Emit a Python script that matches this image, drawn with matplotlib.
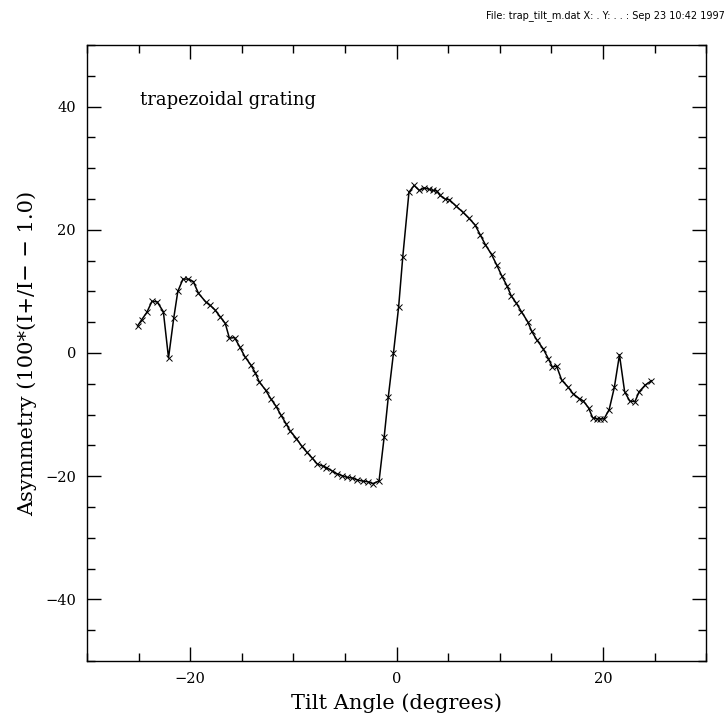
import matplotlib
matplotlib.use('Agg')
import matplotlib.pyplot as plt
from matplotlib.ticker import MultipleLocator

# tilt angle (degrees)
tilt = [-25.1, -24.7, -24.2, -23.7, -23.2, -22.6, -22.1, -21.6, -21.2, -20.7,
        -20.2, -19.7, -19.2, -18.5, -18.1, -17.6, -17.1, -16.6, -16.2, -15.7,
        -15.2, -14.7, -14.1, -13.7, -13.3, -12.7, -12.2, -11.7, -11.2, -10.7,
        -10.3, -9.7, -9.2, -8.7, -8.2, -7.7, -7.1, -6.8, -6.3, -5.8,
        -5.3, -4.8, -4.3, -3.8, -3.3, -2.8, -2.3, -1.7, -1.2, -0.8,
        -0.3, 0.2, 0.6, 1.2, 1.7, 2.2, 2.7, 3.1, 3.5, 3.9,
        4.2, 4.7, 5.1, 5.8, 6.4, 7.0, 7.6, 8.1, 8.6, 9.2,
        9.7, 10.2, 10.7, 11.1, 11.6, 12.1, 12.7, 13.1, 13.6, 14.2,
        14.7, 15.1, 15.5, 16.0, 16.6, 17.1, 17.7, 18.1, 18.6, 19.0,
        19.4, 19.7, 20.1, 20.6, 21.1, 21.6, 22.1, 22.6, 23.1, 23.5,
        24.1, 24.7]

# asymmetry 100*(I+/I- - 1.0)
asym = [4.4, 5.4, 6.6, 8.4, 8.3, 6.7, -0.8, 5.6, 10.0, 12.0,
        12.0, 11.6, 9.7, 8.3, 7.8, 7.0, 5.9, 4.8, 2.4, 2.5,
        1.0, -0.6, -2.0, -3.2, -4.7, -6.0, -7.4, -8.6, -10.1, -11.5,
        -12.7, -13.9, -15.1, -16.1, -17.0, -18.0, -18.4, -18.6, -19.1, -19.6,
        -19.9, -20.2, -20.3, -20.6, -20.8, -20.9, -21.2, -20.8, -13.6, -7.1,
        0.0, 7.5, 15.6, 26.1, 27.2, 26.4, 26.8, 26.6, 26.4, 26.3,
        25.6, 25.0, 24.9, 23.8, 22.9, 21.9, 20.8, 19.2, 17.6, 16.0,
        14.3, 12.5, 10.9, 9.3, 8.1, 6.7, 5.1, 3.5, 2.1, 0.7,
        -0.9, -2.3, -2.1, -4.4, -5.5, -6.6, -7.4, -7.8, -8.9, -10.5,
        -10.7, -10.7, -10.7, -9.2, -5.6, -0.3, -6.3, -7.8, -7.9, -6.3,
        -5.2, -4.5]

x_ticks = [-20, 0, 20]
y_ticks = [-40, -20, 0, 20, 40]

header = 'File: trap_tilt_m.dat X: . Y: . . : Sep 23 10:42 1997'


def main():
    plt.rcParams['font.family'] = ['DejaVu Serif']
    fig = plt.figure(figsize=(7.28, 7.19), dpi=100)
    ax = fig.add_axes([0.1195, 0.0807, 0.8505, 0.8567])

    ax.plot(tilt, asym, color='black', linewidth=1.1,
            marker='x', markersize=3.8, markeredgewidth=0.7)

    ax.set_xlim(-30, 30)
    ax.set_ylim(-50, 50)
    ax.set_xticks(x_ticks)
    ax.set_yticks(y_ticks)
    ax.xaxis.set_minor_locator(MultipleLocator(5))
    ax.yaxis.set_minor_locator(MultipleLocator(5))
    ax.tick_params(which='both', direction='in', top=True, right=True,
                   labelsize=10.5, width=1.0, pad=8)
    ax.tick_params(which='major', length=10)
    ax.tick_params(which='minor', length=6)
    for s in ax.spines.values():
        s.set_linewidth(1.0)

    ax.set_xlabel('Tilt Angle (degrees)', fontsize=15, labelpad=5)
    ax.set_ylabel('Asymmetry (100*(I+/I\u2212 \u2212 1.0)', fontsize=15,
                  labelpad=6)

    ax.text(-24.9, 41, 'trapezoidal grating', fontsize=13, va='center')
    fig.text(0.996, 0.979, header, fontsize=7, ha='right', va='center',
             family='DejaVu Sans')

    fig.savefig('out.png', dpi=100)


if __name__ == "__main__":
    main()
